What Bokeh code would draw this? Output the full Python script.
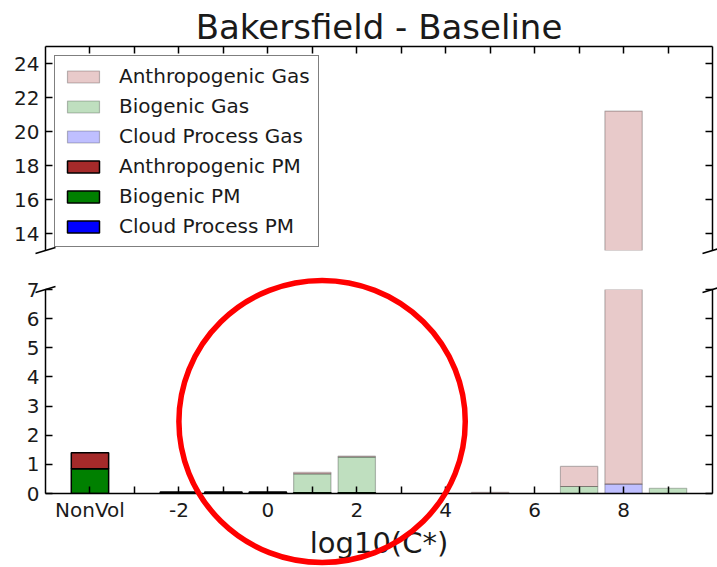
import numpy as np
from bokeh.plotting import figure
from bokeh.models import (ColumnDataSource, Range1d, LinearAxis, FixedTicker,
                          Legend, LegendItem, GridBox, Column)
from bokeh.embed import file_html
from bokeh.resources import INLINE

# log10(C*) volatility bins; -4 holds the non-volatile fraction
bins = [-4, -2, -1, 0, 1, 2, 3, 4, 5, 6, 7, 8, 9]
x_tick_labels = {-4: "NonVol", -2: "-2", 0: "0", 2: "2", 4: "4", 6: "6", 8: "8"}

# concentrations per bin
anthro_pm = [0.55, 0.05, 0.05, 0.05, 0.03, 0.03, 0.0, 0.0, 0.0, 0.0, 0.0, 0.0, 0.0]
bio_pm = [0.85, 0.0, 0.0, 0.0, 0.0, 0.0, 0.0, 0.0, 0.0, 0.0, 0.0, 0.0, 0.0]
cloud_pm = [0.0, 0.0, 0.0, 0.0, 0.0, 0.0, 0.0, 0.0, 0.0, 0.0, 0.0, 0.0, 0.0]
anthro_gas = [0.0, 0.0, 0.0, 0.0, 0.06, 0.03, 0.0, 0.0, 0.04, 0.0, 0.69, 20.88, 0.0]
bio_gas = [0.0, 0.0, 0.0, 0.0, 0.64, 1.22, 0.0, 0.0, 0.0, 0.0, 0.24, 0.0, 0.18]
cloud_gas = [0.0, 0.0, 0.0, 0.0, 0.0, 0.0, 0.0, 0.0, 0.0, 0.0, 0.0, 0.32, 0.0]

FONT = "DejaVu Sans"
TXT = "#1a1a1a"

# geometry of the two stacked panels (pixels)
W, H = 717, 567
TOP_H, BOT_H = 252, 315
BORDER_L, BORDER_R = 45, 5
FRAME_W = W - BORDER_L - BORDER_R
X0, X1 = -5, 10
TOP_Y = (13, 25)
BOT_Y = (0, 7)
TOP_BORDERS = (46, 2)
BOT_BORDERS = (37, 74)
FRAME_H = TOP_H - sum(TOP_BORDERS)

# layers, bottom of the stack first: (name, values, fill, alpha, edge alpha, edge width)
layers = [
    ("cloud_pm", cloud_pm, "blue", 1.0, 1.0, 1.5),
    ("bio_pm", bio_pm, "green", 1.0, 1.0, 1.5),
    ("anthro_pm", anthro_pm, "brown", 1.0, 1.0, 1.5),
    ("cloud_gas", cloud_gas, "blue", 0.25, 0.25, 1.2),
    ("bio_gas", bio_gas, "green", 0.25, 0.25, 1.2),
    ("anthro_gas", anthro_gas, "brown", 0.25, 0.25, 1.2),
]

x_arr = np.asarray(bins, float)
base = np.zeros(len(bins))
stack = {}
for name, vals, *_ in layers:
    v = np.asarray(vals, float)
    stack[name] = (base.copy(), base + v, v)
    base = base + v


def make_fig(height, yr, borders):
    p = figure(width=W, height=height, x_range=Range1d(X0, X1), y_range=Range1d(*yr),
               output_backend="svg", toolbar_location=None,
               x_axis_location=None, y_axis_location=None,
               min_border_left=BORDER_L, min_border_right=BORDER_R,
               min_border_top=borders[0], min_border_bottom=borders[1])
    p.grid.visible = False
    p.outline_line_color = None
    p.background_fill_color = "white"
    p.border_fill_color = "white"
    return p


def style_axis(ax, labels=True):
    ax.major_tick_in = 7
    ax.major_tick_out = 0
    ax.minor_tick_in = 0
    ax.minor_tick_out = 0
    ax.axis_line_width = 1.5
    ax.axis_line_color = "black"
    ax.major_tick_line_width = 1.5
    ax.major_tick_line_color = "black"
    ax.major_label_text_font = FONT
    ax.major_label_text_color = TXT
    if labels:
        ax.major_label_text_font_size = "20px"
        ax.major_label_standoff = 6
    else:
        ax.major_label_text_font_size = "0px"
        ax.major_label_standoff = 0


def draw_bars(p, y_lo):
    """Stacked bars; segments that are empty or stay below the panel are left out (NaN)."""
    out = {}
    for name, _, fill, fa, la, lw in layers:
        bottom, top, v = stack[name]
        hidden = (v <= 0) | (top <= y_lo)
        src = ColumnDataSource(dict(x=x_arr,
                                    bottom=np.where(hidden, np.nan, bottom),
                                    top=np.where(hidden, np.nan, top)))
        out[name] = p.vbar(x="x", bottom="bottom", top="top", width=0.84, source=src,
                           fill_color=fill, fill_alpha=fa,
                           line_color="black", line_alpha=la, line_width=lw)
    return out


# ---- upper panel (13 .. 25) ----
p_top = make_fig(TOP_H, TOP_Y, TOP_BORDERS)
p_top.title.text = "Bakersfield - Baseline"
p_top.title.text_font = FONT
p_top.title.text_font_size = "34px"
p_top.title.text_font_style = "normal"
p_top.title.text_color = TXT
p_top.title.align = "center"
p_top.title.standoff = 0

ax = LinearAxis(ticker=FixedTicker(ticks=list(range(14, 25, 2))))
style_axis(ax)
p_top.add_layout(ax, "left")
ax = LinearAxis(ticker=FixedTicker(ticks=list(range(14, 25, 2))))
style_axis(ax, labels=False)
p_top.add_layout(ax, "right")
ax = LinearAxis(ticker=FixedTicker(ticks=list(range(-4, 10))))
style_axis(ax, labels=False)
p_top.add_layout(ax, "above")

by_name = draw_bars(p_top, TOP_Y[0])
legend = Legend(items=[
    LegendItem(label="Anthropogenic Gas", renderers=[by_name["anthro_gas"]]),
    LegendItem(label="Biogenic Gas", renderers=[by_name["bio_gas"]]),
    LegendItem(label="Cloud Process Gas", renderers=[by_name["cloud_gas"]]),
    LegendItem(label="Anthropogenic PM", renderers=[by_name["anthro_pm"]]),
    LegendItem(label="Biogenic PM", renderers=[by_name["bio_pm"]]),
    LegendItem(label="Cloud Process PM", renderers=[by_name["cloud_pm"]]),
], location="top_left")
legend.label_text_font = FONT
legend.label_text_font_size = "20px"
legend.label_text_color = TXT
legend.glyph_width = 40
legend.glyph_height = 15
legend.label_height = 22
legend.label_standoff = 16
legend.spacing = 6
legend.padding = 8
legend.margin = 9
legend.border_line_color = "black"
legend.border_line_width = 1.5
legend.background_fill_alpha = 1
p_top.add_layout(legend)

# ---- lower panel (0 .. 7) ----
p_bot = make_fig(BOT_H, BOT_Y, BOT_BORDERS)

ax = LinearAxis(ticker=FixedTicker(ticks=list(range(0, 8))))
style_axis(ax)
p_bot.add_layout(ax, "left")
ax = LinearAxis(ticker=FixedTicker(ticks=list(range(0, 8))))
style_axis(ax, labels=False)
p_bot.add_layout(ax, "right")
ax = LinearAxis(ticker=FixedTicker(ticks=list(range(-4, 10))))
style_axis(ax)
overrides = {t: "" for t in range(-4, 10)}
overrides.update(x_tick_labels)
ax.major_label_overrides = overrides
ax.major_label_standoff = 4
ax.axis_label = "log10(C*)"
ax.axis_label_text_font = FONT
ax.axis_label_text_font_size = "29px"
ax.axis_label_text_font_style = "normal"
ax.axis_label_text_color = TXT
ax.axis_label_standoff = 1
p_bot.add_layout(ax, "below")

draw_bars(p_bot, BOT_Y[0])

panels = Column(children=[p_top, p_bot], spacing=0)

# ---- transparent full-canvas overlay, in lower-panel data units ----
sx = FRAME_W / (X1 - X0)                 # px per x unit
sy = FRAME_H / (BOT_Y[1] - BOT_Y[0])     # px per y unit (lower panel)
bot_frame_top = TOP_H + BOT_BORDERS[0]
bot_frame_bottom = H - BOT_BORDERS[1]
top_frame_bottom = TOP_H - TOP_BORDERS[1]

p_over = figure(width=W, height=H, output_backend="svg", toolbar_location=None,
                x_range=Range1d(X0 - BORDER_L / sx, X1 + BORDER_R / sx),
                y_range=Range1d(BOT_Y[0] - (H - bot_frame_bottom) / sy,
                                BOT_Y[1] + bot_frame_top / sy),
                x_axis_location=None, y_axis_location=None,
                min_border=0, min_border_left=0, min_border_right=0,
                min_border_top=0, min_border_bottom=0)
p_over.grid.visible = False
p_over.outline_line_color = None
p_over.background_fill_color = None
p_over.border_fill_color = None

# diagonal break marks at the cut edges of both panels
y_cut_top = BOT_Y[1] + (bot_frame_top - top_frame_bottom) / sy
dx, dy = 10 / sx, 3 / sy
mark_x = [X0, X1, X0, X1]
mark_y = [y_cut_top, y_cut_top, BOT_Y[1], BOT_Y[1]]
p_over.segment(x0=[x - dx for x in mark_x], y0=[y - dy for y in mark_y],
               x1=[x + dx for x in mark_x], y1=[y + dy for y in mark_y],
               line_color="black", line_width=1.5)

# red highlight ring around the low-volatility bins
ring_x, ring_y, ring_rx, ring_ry = 1.22, 2.47, 3.22, 4.84
p_over.ellipse(x=[ring_x], y=[ring_y], width=[2 * ring_rx], height=[2 * ring_ry],
               fill_alpha=0, line_color="red", line_width=5.5)

grid = GridBox(children=[(panels, 0, 0), (p_over, 0, 0)])
open("out.html", "w").write(file_html(grid, INLINE))
